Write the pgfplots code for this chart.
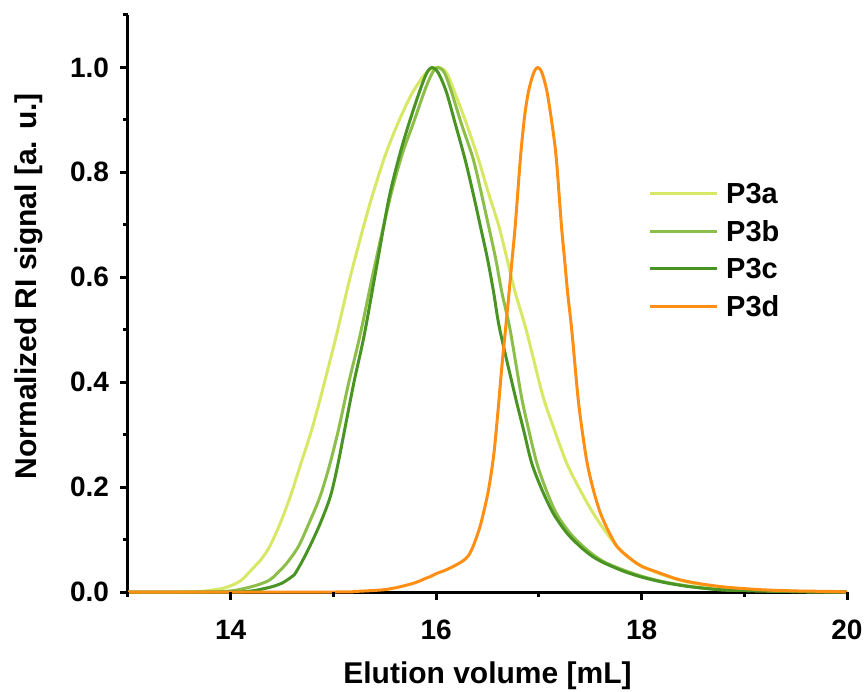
\documentclass[border=0pt]{standalone}
\usepackage{fontspec}
\setmainfont{Liberation Sans}
\usepackage{pgfplots}
\pgfplotsset{compat=1.18}
\definecolor{cA}{HTML}{D7E866}
\definecolor{cB}{HTML}{8DBE4A}
\definecolor{cC}{HTML}{4A9424}
\definecolor{cD}{HTML}{FF8F14}
\begin{document}
\begin{tikzpicture}
\begin{axis}[
  scale only axis,
  width=359.5pt, height=288.5pt,
  xmin=13, xmax=20, ymin=0, ymax=1.1,
  axis x line*=bottom, axis y line*=left,
  axis line style={line width=1.5pt},
  clip=false,
  xtick={14,16,18,20}, minor xtick={13,15,17,19},
  ytick={0,0.2,0.4,0.6,0.8,1.0}, minor ytick={0.1,0.3,0.5,0.7,0.9,1.1},
  xtick align=outside, ytick align=outside,
  major tick length=4pt, minor tick length=2.5pt,
  major tick style={black, line width=1.5pt},
  minor tick style={black, line width=1.5pt},
  /pgf/number format/assume math mode=true,
  tick label style={font=\bfseries\fontsize{14}{16}\selectfont},
  yticklabel style={/pgf/number format/.cd,fixed,fixed zerofill,precision=1,/tikz/.cd,xshift=-2pt},
  xticklabel style={/pgf/number format/.cd,fixed,precision=0,/tikz/.cd,yshift=-6.5pt},
  xlabel={Elution volume [mL]},
  ylabel={Normalized RI signal [a. u.]},
  label style={font=\bfseries\fontsize{15}{18}\selectfont},
  xlabel style={at={(axis description cs:0.5,-0.159)}, anchor=base},
  ylabel style={at={(axis description cs:-0.1266,0.53)}, anchor=base, rotate=0},
  legend style={draw=none, fill=none, inner sep=0pt,
    at={(axis description cs:0.723,0.7083)}, anchor=north west,
    row sep=8.8pt, column sep=4pt,
    nodes={inner sep=0pt, text depth=0pt, text height=10pt,
      font=\bfseries\fontsize{14.5}{17}\selectfont}},
  legend cell align=left,
  legend image code/.code={\draw[#1] (0pt,0pt) -- (33.5pt,0pt);},
  every axis plot/.append style={line width=1.5pt, line join=round, smooth, tension=0.5},
]
\addplot[cA] coordinates {
(13.0,0) (13.5,0) (13.7,0.001) (13.9,0.006) (14.0,0.012) (14.1,0.022) (14.22,0.046) (14.3,0.063)
(14.38,0.087) (14.48,0.13) (14.58,0.182) (14.68,0.243) (14.79,0.31) (14.9,0.39) (15.03,0.49)
(15.15,0.59) (15.27,0.68) (15.37,0.75) (15.5,0.83) (15.62,0.89) (15.75,0.945) (15.87,0.982)
(15.95,0.997) (16.03,1.0) (16.1,0.99) (16.18,0.953) (16.3,0.89) (16.41,0.826) (16.51,0.76)
(16.61,0.698) (16.69,0.635) (16.77,0.571) (16.84,0.525) (16.9,0.482) (17.04,0.373) (17.15,0.31)
(17.27,0.246) (17.4,0.195) (17.53,0.150) (17.65,0.115) (17.76,0.087) (17.85,0.07) (17.95,0.055)
(18.05,0.045) (18.2,0.033) (18.35,0.024) (18.5,0.017) (18.7,0.011) (18.9,0.007) (19.2,0.003)
(19.6,0.001) (20,0)};
\addlegendentry{P3a}
\addplot[cB] coordinates {
(13,0) (13.8,0) (14.0,0.002) (14.09,0.005) (14.2,0.01) (14.3,0.016) (14.38,0.023) (14.45,0.035)
(14.55,0.056) (14.66,0.087) (14.76,0.13) (14.87,0.182) (14.96,0.24) (15.05,0.31) (15.15,0.40)
(15.26,0.49) (15.4,0.62) (15.55,0.75) (15.67,0.835) (15.78,0.895) (15.9,0.962) (15.97,0.992)
(16.02,1.0) (16.08,0.99) (16.15,0.953) (16.25,0.89) (16.36,0.826) (16.44,0.76) (16.51,0.698)
(16.58,0.635) (16.64,0.571) (16.72,0.50) (16.83,0.373) (16.9,0.31) (16.98,0.246) (17.07,0.195)
(17.17,0.150) (17.3,0.113) (17.43,0.087) (17.55,0.068) (17.66,0.055) (17.85,0.04) (18.02,0.029)
(18.2,0.02) (18.4,0.013) (18.57,0.008) (18.8,0.004) (19.2,0.002) (19.6,0.0005) (20,0)};
\addlegendentry{P3b}
\addplot[cC] coordinates {
(13,0) (14.0,0) (14.2,0.002) (14.29,0.005) (14.4,0.01) (14.5,0.017) (14.58,0.027) (14.62,0.033)
(14.7,0.06) (14.77,0.087) (14.87,0.13) (14.97,0.182) (15.04,0.24) (15.11,0.31) (15.2,0.40)
(15.3,0.49) (15.42,0.62) (15.54,0.75) (15.64,0.83) (15.73,0.89) (15.84,0.955) (15.91,0.99)
(15.96,1.0) (16.02,0.99) (16.1,0.953) (16.19,0.89) (16.28,0.826) (16.36,0.76) (16.43,0.698)
(16.5,0.635) (16.56,0.571) (16.62,0.50) (16.77,0.373) (16.85,0.31) (16.93,0.246) (17.03,0.195)
(17.14,0.150) (17.27,0.113) (17.40,0.087) (17.52,0.068) (17.64,0.055) (17.82,0.04) (17.99,0.029)
(18.2,0.019) (18.4,0.012) (18.57,0.008) (18.8,0.004) (19.2,0.002) (19.6,0.0005) (20,0)};
\addlegendentry{P3c}
\addplot[cD] coordinates {
(13,0) (15.0,0) (15.2,0.001) (15.4,0.003) (15.52,0.005) (15.65,0.01) (15.8,0.018) (15.91,0.027)
(15.94,0.029) (16.0,0.035) (16.07,0.040) (16.15,0.047) (16.25,0.058) (16.31,0.068) (16.36,0.087)
(16.42,0.12) (16.46,0.150) (16.51,0.195) (16.56,0.26) (16.6,0.34) (16.64,0.43) (16.68,0.51)
(16.71,0.571) (16.74,0.635) (16.77,0.698) (16.82,0.826) (16.86,0.905) (16.90,0.955) (16.95,0.99)
(16.99,1.0) (17.03,0.99) (17.08,0.953) (17.13,0.89) (17.17,0.826) (17.22,0.698) (17.25,0.635)
(17.28,0.571) (17.32,0.50) (17.38,0.373) (17.42,0.31) (17.47,0.246) (17.53,0.195) (17.60,0.150)
(17.68,0.115) (17.76,0.087) (17.85,0.07) (17.95,0.055) (18.01,0.048) (18.18,0.036) (18.34,0.025)
(18.5,0.018) (18.7,0.012) (18.89,0.008) (19.2,0.004) (19.5,0.002) (19.86,0.001) (20,0)};
\addlegendentry{P3d}
\draw[line width=1.5pt] (axis cs:14,0) -- ([yshift=-4pt]axis cs:14,0);
\draw[line width=1.5pt] (axis cs:16,0) -- ([yshift=-4pt]axis cs:16,0);
\draw[line width=1.5pt] (axis cs:18,0) -- ([yshift=-4pt]axis cs:18,0);
\draw[line width=1.5pt] (axis cs:20,0) -- ([yshift=-4pt]axis cs:20,0);
\draw[line width=1.5pt] (axis cs:13,0) -- ([yshift=-2.5pt]axis cs:13,0);
\draw[line width=1.5pt] (axis cs:15,0) -- ([yshift=-2.5pt]axis cs:15,0);
\draw[line width=1.5pt] (axis cs:17,0) -- ([yshift=-2.5pt]axis cs:17,0);
\draw[line width=1.5pt] (axis cs:19,0) -- ([yshift=-2.5pt]axis cs:19,0);
\draw[line width=1.5pt] (axis cs:13,0) -- ([xshift=-4pt]axis cs:13,0);
\draw[line width=1.5pt] (axis cs:13,0.2) -- ([xshift=-4pt]axis cs:13,0.2);
\draw[line width=1.5pt] (axis cs:13,0.4) -- ([xshift=-4pt]axis cs:13,0.4);
\draw[line width=1.5pt] (axis cs:13,0.6) -- ([xshift=-4pt]axis cs:13,0.6);
\draw[line width=1.5pt] (axis cs:13,0.8) -- ([xshift=-4pt]axis cs:13,0.8);
\draw[line width=1.5pt] (axis cs:13,1.0) -- ([xshift=-4pt]axis cs:13,1.0);
\draw[line width=1.5pt] (axis cs:13,0.1) -- ([xshift=-2.5pt]axis cs:13,0.1);
\draw[line width=1.5pt] (axis cs:13,0.3) -- ([xshift=-2.5pt]axis cs:13,0.3);
\draw[line width=1.5pt] (axis cs:13,0.5) -- ([xshift=-2.5pt]axis cs:13,0.5);
\draw[line width=1.5pt] (axis cs:13,0.7) -- ([xshift=-2.5pt]axis cs:13,0.7);
\draw[line width=1.5pt] (axis cs:13,0.9) -- ([xshift=-2.5pt]axis cs:13,0.9);
\draw[line width=1.5pt] (axis cs:13,1.1) -- ([xshift=-2.5pt]axis cs:13,1.1);
\coordinate (sw) at (rel axis cs:0,0);
\coordinate (ne) at (rel axis cs:1,1);
\end{axis}
\pgfresetboundingbox
\path ([shift={(-64pt,-49.5pt)}]sw) rectangle ([shift={(9.5pt,7.5pt)}]ne);
\end{tikzpicture}
\end{document}
